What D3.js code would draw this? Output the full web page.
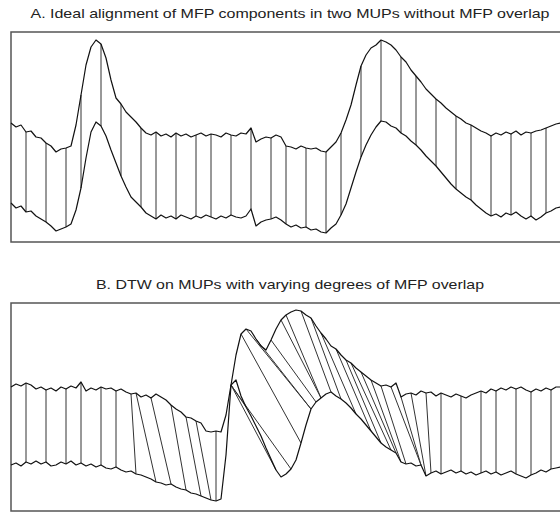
<!DOCTYPE html>
<html>
<head>
<meta charset="utf-8">
<script src="https://cdn.jsdelivr.net/npm/d3@7"></script>
<style>
  html, body { margin: 0; padding: 0; background: #fff; }
  svg { display: block; }
</style>
</head>
<body>
<div id="chart"></div>
<script>
// sample values (arbitrary amplitude units), one value per sample index 0..110

const upperA = [119,115,117,110,111,105,104,99,96,90,93,94,96,117,147,177,195,202,198,184,
  162,144,138,130,125,120,114,109,107,110,106,108,105,109,106,108,105,107,109,106,
  108,107,105,109,107,106,109,108,114,100,103,105,104,107,105,96,95,93,96,94,
  93,94,91,90,95,100,109,122,137,157,176,187,194,197,202,200,197,192,185,180,
  172,166,160,153,148,143,139,134,130,126,123,119,117,114,111,109,106,109,107,110,
  108,111,107,110,109,111,112,114,116,118,119];

const lowerA = [39,34,36,30,31,26,23,20,16,11,13,15,18,32,54,84,110,120,116,106,
  92,79,66,55,45,40,35,29,26,23,27,24,26,23,27,25,23,26,24,27,
  25,23,26,24,27,25,24,26,33,16,20,22,23,25,22,18,15,17,14,15,
  12,13,10,9,14,18,27,38,54,70,85,97,107,115,121,120,116,114,109,106,
  101,97,92,86,81,76,70,64,58,53,49,45,42,37,33,29,26,28,25,29,
  27,30,26,23,26,22,25,29,31,34,35];

// warping path: [upper index, lower index]
const pairsA = [[3,3],[7,7],[11,11],[14,14],[18,18],[22,22],[26,26],[29,29],[33,33],[37,37],
  [40,40],[44,44],[48,48],[52,52],[55,55],[59,59],[63,63],[66,66],[70,70],[74,74],
  [78,78],[81,81],[85,85],[89,89],[92,92],[96,96],[100,100],[104,104],[107,107]];

const upperB = [124,127,125,128,126,122,124,121,123,120,124,122,125,123,129,120,123,121,124,122,
  123,120,122,119,117,118,114,116,113,117,114,111,106,102,99,94,93,90,88,80,
  79,80,79,96,126,156,177,182,180,172,165,161,171,182,191,196,199,201,200,196,
  193,185,178,172,165,162,156,151,148,143,139,135,131,128,125,126,124,128,114,117,
  118,116,120,118,119,115,118,116,114,117,115,113,116,118,120,118,122,120,123,121,
  124,122,124,121,119,122,120,123,121,124,124];

const lowerB = [46,48,45,49,47,50,47,49,45,46,49,47,50,46,48,45,47,44,46,43,
  42,44,41,39,40,37,36,34,32,29,28,26,27,24,22,21,18,17,15,13,
  11,10,12,56,126,131,115,104,95,85,75,63,52,41,34,37,42,51,68,86,
  102,109,113,117,119,115,112,108,103,97,92,86,80,74,68,64,61,58,49,47,
  48,45,46,35,38,40,37,39,41,38,40,37,39,36,38,40,37,39,36,38,
  40,37,35,33,36,38,41,39,42,43,44];

const pairsB = [[3,3],[7,7],[11,11],[14,14],[18,18],[21,21],[24,25],[25,29],[28,32],[32,35],
  [35,38],[37,40],[41,41],[44,45],[44,47],[44,53],[44,56],[46,58],[47,60],[49,60],
  [52,61],[54,62],[55,62],[58,64],[60,66],[62,69],[65,72],[67,74],[68,76],[70,77],
  [72,78],[74,79],[76,82],[78,82],[80,83],[83,84],[86,86],[90,90],[94,94],[97,97],
  [101,101],[104,104],[108,108]];

const titles = [
  'A. Ideal alignment of MFP components in two MUPs without MFP overlap',
  'B. DTW on MUPs with varying degrees of MFP overlap'
];

const width = 560, height = 512;

const svg = d3.select('#chart').append('svg')
    .attr('width', width)
    .attr('height', height);

const x = d3.scaleLinear().domain([0, upperA.length - 1]).range([11, 561]);

const panels = [
  { upper: upperA, lower: lowerA, pairs: pairsA, title: titles[0], top: 32, bottom: 242, max: 210, titleY: 18, titleW: 519 },
  { upper: upperB, lower: lowerB, pairs: pairsB, title: titles[1], top: 303, bottom: 511, max: 208, titleY: 289, titleW: 388 }
];

panels.forEach(p => {
  const y = d3.scaleLinear().domain([0, p.max]).range([p.bottom, p.top]);
  const g = svg.append('g');

  g.append('text')
      .attr('x', 290)
      .attr('y', p.titleY)
      .attr('text-anchor', 'middle')
      .attr('font-family', '"Liberation Sans", Arial, sans-serif')
      .attr('font-size', 13)
      .attr('fill', '#222')
      .attr('textLength', p.titleW)
      .attr('lengthAdjust', 'spacingAndGlyphs')
      .text(p.title);

  g.append('rect')
      .attr('x', 11)
      .attr('y', p.top)
      .attr('width', 560)
      .attr('height', p.bottom - p.top)
      .attr('fill', 'none')
      .attr('stroke', '#555')
      .attr('stroke-width', 1.5);

  // alignment lines first so the traces sit on top
  g.selectAll('.link')
      .data(p.pairs)
    .enter().append('line')
      .attr('class', 'link')
      .attr('x1', d => x(d[0]))
      .attr('y1', d => y(p.upper[d[0]]))
      .attr('x2', d => x(d[1]))
      .attr('y2', d => y(p.lower[d[1]]))
      .attr('stroke', '#333')
      .attr('stroke-width', 1);

  const line = d3.line()
      .x((d, i) => x(i))
      .y(d => y(d));

  [p.upper, p.lower].forEach(series => {
    g.append('path')
        .datum(series)
        .attr('d', line)
        .attr('fill', 'none')
        .attr('stroke', '#111')
        .attr('stroke-width', 1.2)
        .attr('stroke-linejoin', 'round');
  });
});
</script>
</body>
</html>
